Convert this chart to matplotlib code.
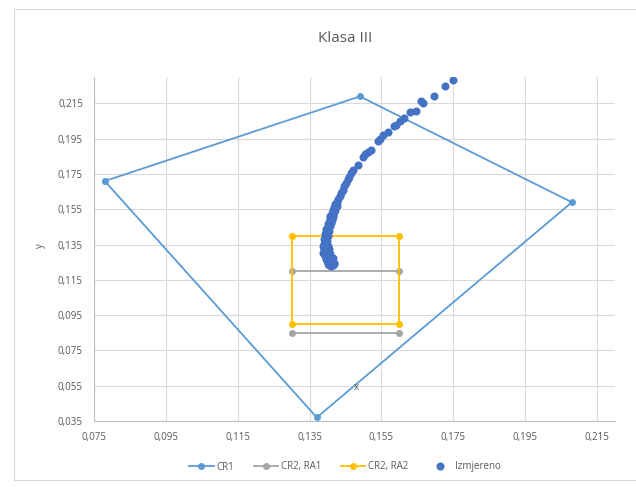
import numpy as np
import matplotlib
matplotlib.use("Agg")
import matplotlib.pyplot as plt
from matplotlib.patches import Rectangle
from matplotlib.lines import Line2D

plt.rcParams['font.family'] = ['Open Sans', 'DejaVu Sans']

# CR1 polygon (closed)
cr1_x = [0.078, 0.149, 0.208, 0.137, 0.078]
cr1_y = [0.171, 0.219, 0.159, 0.037, 0.171]

# CR2, RA1 - two horizontal segments
ra1_x = [0.13, 0.16, np.nan, 0.13, 0.16]
ra1_y = [0.12, 0.12, np.nan, 0.085, 0.085]

# CR2, RA2 - rectangle
ra2_x = [0.13, 0.16, 0.16, 0.13, 0.13]
ra2_y = [0.14, 0.14, 0.09, 0.09, 0.14]

# Izmjereno (measured points)
izm_x = [0.1750, 0.1726, 0.1696, 0.1667, 0.1660, 0.1645, 0.1630, 0.1612, 0.1602, 0.1590,
         0.1585, 0.1568, 0.1555, 0.1545, 0.1540, 0.1520, 0.1512, 0.1505, 0.1498, 0.1484,
         0.1472, 0.1466, 0.1460, 0.1456, 0.1452, 0.1447, 0.1442, 0.1438, 0.1434, 0.1430,
         0.1426, 0.1422, 0.1418, 0.1414, 0.1411, 0.1408, 0.1406, 0.1404, 0.1402, 0.1400,
         0.1398, 0.1397, 0.1396, 0.1395, 0.1394, 0.1393, 0.1392, 0.1391, 0.1390, 0.1392,
         0.1394, 0.1396, 0.1398, 0.1400, 0.1405, 0.1410, 0.1415, 0.1402, 0.1406, 0.1404,
         0.1401, 0.1399, 0.1401, 0.1404, 0.1408, 0.1412, 0.1416, 0.1420, 0.1410, 0.1412,
         0.1408, 0.1403, 0.1396, 0.1389, 0.1393, 0.1397, 0.1409, 0.1414, 0.1418, 0.1425,
         0.1418, 0.1388, 0.1391, 0.1414, 0.1419, 0.1386]
izm_y = [0.2282, 0.2248, 0.2190, 0.2150, 0.2162, 0.2105, 0.2100, 0.2068, 0.2052, 0.2030,
         0.2020, 0.1990, 0.1972, 0.1948, 0.1938, 0.1888, 0.1875, 0.1862, 0.1848, 0.1802,
         0.1772, 0.1755, 0.1735, 0.1720, 0.1698, 0.1680, 0.1660, 0.1645, 0.1625, 0.1610,
         0.1592, 0.1578, 0.1562, 0.1545, 0.1530, 0.1512, 0.1498, 0.1480, 0.1465, 0.1450,
         0.1435, 0.1420, 0.1405, 0.1390, 0.1375, 0.1360, 0.1345, 0.1330, 0.1318, 0.1300,
         0.1285, 0.1270, 0.1255, 0.1240, 0.1232, 0.1228, 0.1235, 0.1262, 0.1280, 0.1310,
         0.1340, 0.1370, 0.1400, 0.1425, 0.1455, 0.1490, 0.1520, 0.1548, 0.1250, 0.1265,
         0.1295, 0.1325, 0.1352, 0.1380, 0.1410, 0.1440, 0.1470, 0.1505, 0.1535, 0.1570,
         0.1245, 0.1300, 0.1352, 0.1275, 0.1238, 0.1340]

x_ticks = np.arange(0.075, 0.2151, 0.02)
y_ticks = np.arange(0.035, 0.2151, 0.02)

text_col = '#595959'
grid_col = '#D9D9D9'

fig = plt.figure(figsize=(6.36, 4.87), dpi=100)
fig.patch.set_facecolor('white')
fig.patches.append(Rectangle((14 / 636, 1 - 480 / 487), 1, (480 - 9) / 487,
                             transform=fig.transFigure, fill=False,
                             edgecolor=grid_col, linewidth=0.8))

ax = fig.add_axes([94 / 636, 1 - 421 / 487, (615 - 94) / 636, (421 - 77) / 487])

ax.plot(cr1_x, cr1_y, color='#5B9BD5', lw=1.3, marker='o', ms=4, label='CR1', zorder=3)
ax.plot(ra1_x, ra1_y, color='#A5A5A5', lw=1.3, marker='o', ms=4, label='CR2, RA1', zorder=3)
ax.plot(ra2_x, ra2_y, color='#FFC000', lw=1.3, marker='o', ms=4, label='CR2, RA2', zorder=3)
ax.plot(izm_x, izm_y, ls='none', color='#4472C4', marker='o', ms=4.8, label='Izmjereno', zorder=4)

ax.set_xlim(0.075, 0.22)
ax.set_ylim(0.035, 0.23)
ax.set_xticks(x_ticks)
ax.set_yticks(y_ticks)
ax.set_xticklabels([f'{v:.3f}'.replace('.', ',') for v in x_ticks])
ax.set_yticklabels([f'{v:.3f}'.replace('.', ',') for v in y_ticks])
ax.tick_params(length=0, labelsize=7, labelcolor=text_col, pad=8)
ax.grid(True, color=grid_col, lw=0.8)
ax.set_axisbelow(True)
for s in ['top', 'right']:
    ax.spines[s].set_visible(False)
for s in ['left', 'bottom']:
    ax.spines[s].set_color('#BFBFBF')
    ax.spines[s].set_linewidth(0.8)

fig.text(345 / 636, 1 - 38 / 487, 'Klasa III', ha='center', va='center', fontsize=11, color=text_col)
fig.text(40 / 636, 1 - 246 / 487, 'y', ha='center', va='center', rotation=90, fontsize=7, color=text_col)
fig.text(356 / 636, 1 - 388 / 487, 'x', ha='center', va='center', fontsize=7, color=text_col)

handles = [
    Line2D([], [], color='#5B9BD5', lw=1.3, marker='o', ms=4),
    Line2D([], [], color='#A5A5A5', lw=1.3, marker='o', ms=4),
    Line2D([], [], color='#FFC000', lw=1.3, marker='o', ms=4),
    Line2D([], [], ls='none', color='#4472C4', marker='o', ms=4.8),
]
fig.legend(handles, ['CR1', 'CR2, RA1', 'CR2, RA2', 'Izmjereno'], loc='center',
           bbox_to_anchor=(345 / 636, 1 - 467 / 487), ncol=4, frameon=False,
           fontsize=7, labelcolor=text_col, handlelength=2.5, columnspacing=2.0,
           handletextpad=0.3)

fig.savefig('out.png', dpi=100)
